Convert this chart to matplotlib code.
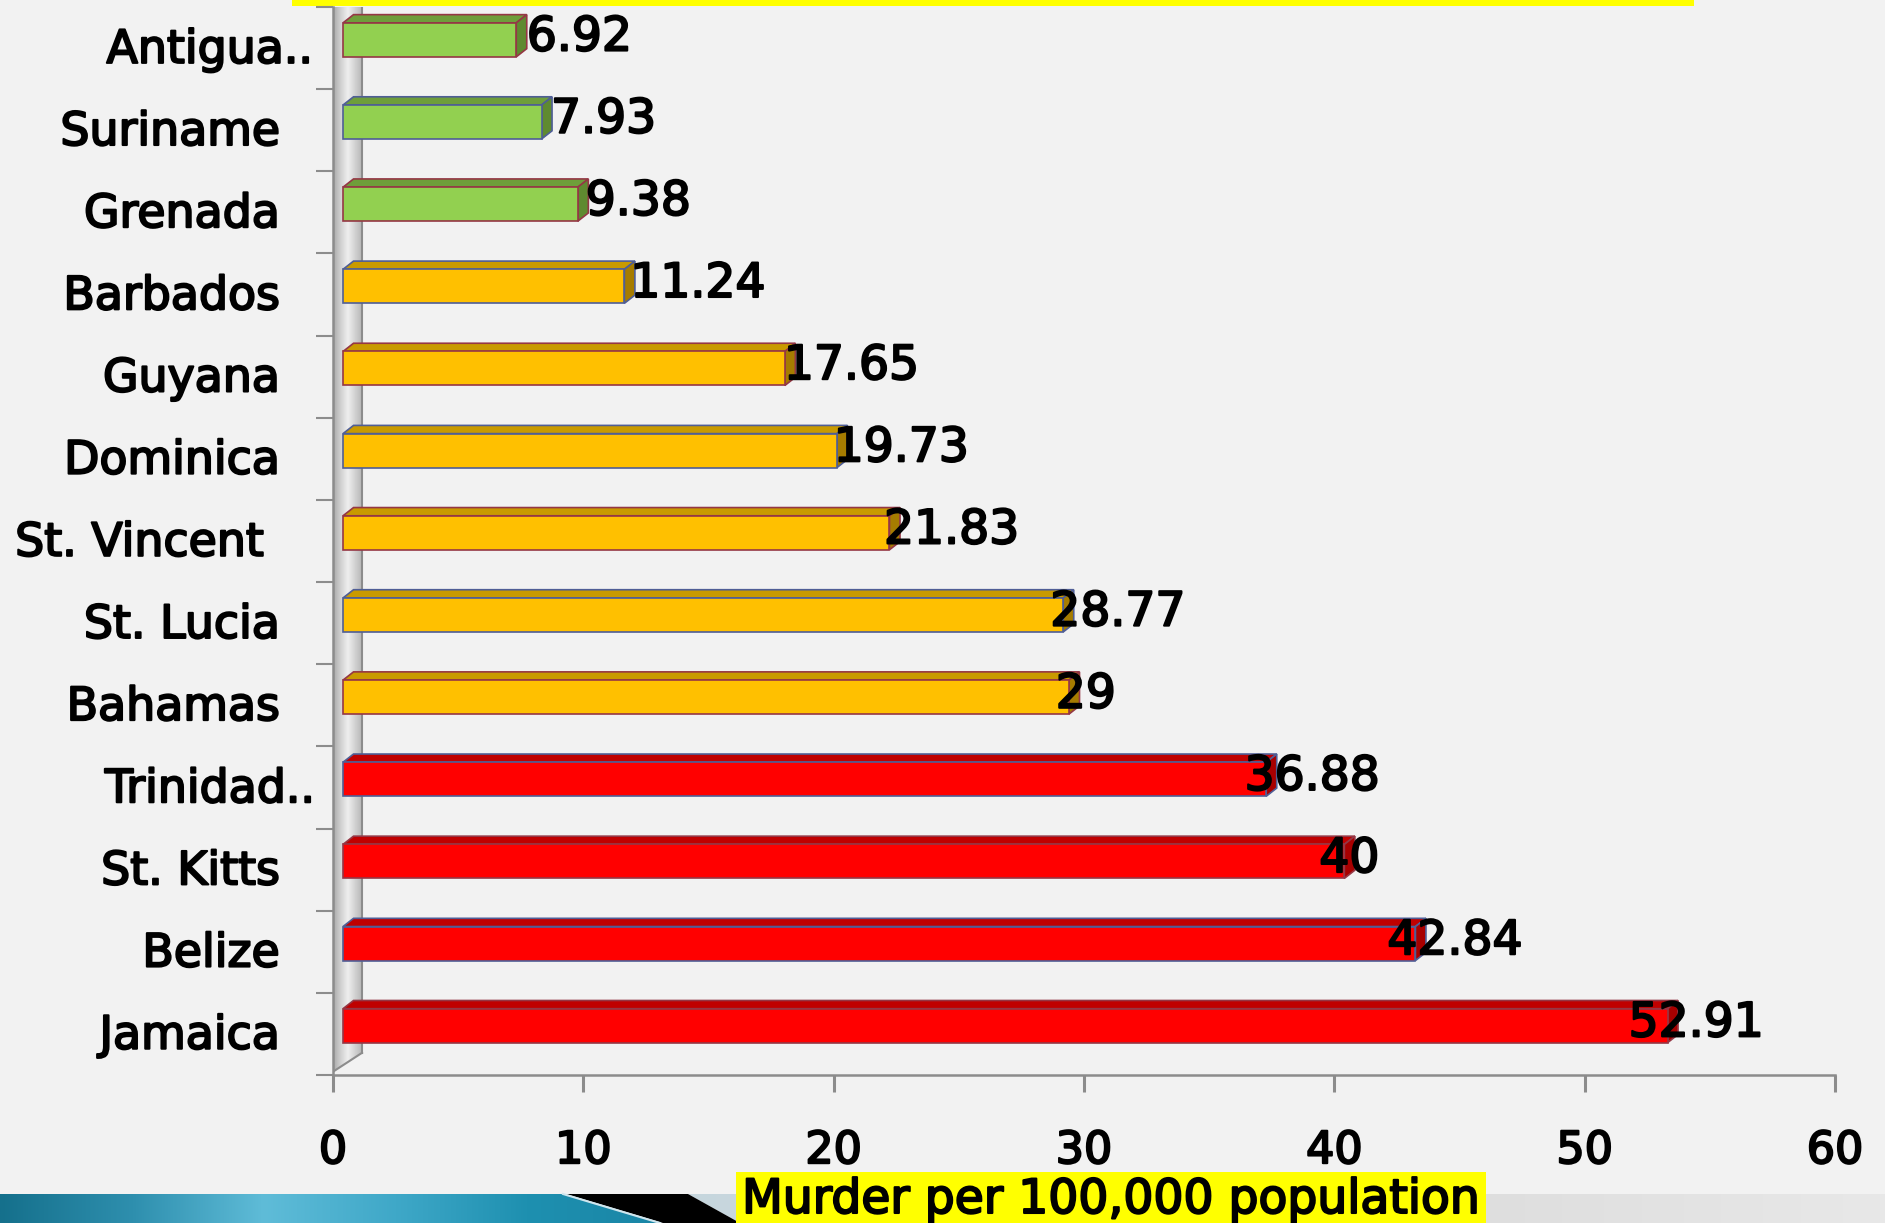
import numpy as np
import matplotlib
matplotlib.use('Agg')
import matplotlib.pyplot as plt
import matplotlib.transforms as mtransforms
import matplotlib.patheffects as pe
from matplotlib.patches import Polygon, Rectangle
from matplotlib.colors import LinearSegmentedColormap

plt.rcParams['font.family'] = ['DejaVu Sans']

# 数据（从上到下）
countries = ['Antigua..', 'Suriname', 'Grenada', 'Barbados', 'Guyana', 'Dominica',
             'St. Vincent', 'St. Lucia', 'Bahamas', 'Trinidad..', 'St. Kitts', 'Belize', 'Jamaica']
rates = [6.92, 7.93, 9.38, 11.24, 17.65, 19.73, 21.83, 28.77, 29, 36.88, 40, 42.84, 52.91]
levels = ['low', 'low', 'low', 'mid', 'mid', 'mid', 'mid', 'mid', 'mid', 'high', 'high', 'high', 'high']
x_ticks = [0, 10, 20, 30, 40, 50, 60]
x_title = 'Murder per 100,000 population'

# 颜色: 正面, 顶面, 侧面
face_map = {'low': '#92D050', 'mid': '#FFC000', 'high': '#FF0000'}
top_map = {'low': '#6E9E3A', 'mid': '#C99A00', 'high': '#C00000'}
side_map = {'low': '#5F8A30', 'mid': '#A67C00', 'high': '#A80000'}
edge_cycle = ['#953745', '#4F5E96']
label_nudge = {'Antigua..': 33, 'Trinidad..': 35, 'St. Vincent': -16}  # 像素

# 文字加粗一点（原图字体偏粗）
heavy = [pe.withStroke(linewidth=1.5, foreground='black')]

W, H = 1885, 1223
bg = '#F2F2F2'
fig = plt.figure(figsize=(W / 100, H / 100), dpi=100, facecolor=bg)

# 底部装饰 + 标题框（像素坐标的背景层）
deco = fig.add_axes([0, 0, 1, 1], zorder=0)
deco.set_xlim(0, W)
deco.set_ylim(H, 0)
deco.axis('off')
deco.add_patch(Rectangle((292, 0), 1402, 6, facecolor='#FFFF00', edgecolor='none'))

teal = LinearSegmentedColormap.from_list('teal', ['#15708C', '#2E8FAE', '#5FBCD8', '#3FA8C8', '#1E90B0', '#1A86A6'])
grad = np.linspace(0, 1, 256).reshape(1, -1)
im = deco.imshow(grad, cmap=teal, aspect='auto', extent=(0, 660, H, 1194), zorder=1)
clip = Polygon([(0, 1194), (563, 1194), (660, H), (0, H)], closed=True, transform=deco.transData)
im.set_clip_path(clip)
deco.plot([563, 660], [1194, H], color='#CFE6EE', lw=1.5, zorder=3)
deco.add_patch(Polygon([(566, 1194), (688, 1194), (740, H), (663, H)], closed=True,
                       facecolor='black', edgecolor='none', zorder=2))
grey = LinearSegmentedColormap.from_list('grey', ['#C6D6DE', '#D6D6D6', '#DEDEDE', '#E8E8E8'])
im2 = deco.imshow(grad, cmap=grey, aspect='auto', extent=(688, W, H, 1194), zorder=1)
clip2 = Polygon([(688, 1194), (W, 1194), (W, H), (740, H)], closed=True, transform=deco.transData)
im2.set_clip_path(clip2)

deco.text(1111, 1213, x_title, fontsize=34, ha='center', va='baseline', zorder=5, path_effects=heavy,
          bbox=dict(boxstyle='square,pad=0.12', facecolor='#FFFF00', edgecolor='none'))

# 主图
ax = fig.add_axes([333 / W, (H - 1075) / H, (1835 - 333) / W, 1068 / H], zorder=1)
ax.set_facecolor(bg)
n = len(countries)
ypos = np.arange(n)[::-1]
ax.set_xlim(0, 60)
ax.set_ylim(-0.5, n - 0.5)

# 左侧 3D 墙
wall_w = 1.16
wall_cmap = LinearSegmentedColormap.from_list('wall', ['#A8A8A8', '#CFCFCF', '#EFEFEF', '#D0D0D0', '#B4B4B4'])
wim = ax.imshow(grad, cmap=wall_cmap, aspect='auto', extent=(0, wall_w, -0.5, n - 0.5), zorder=1)
wall_poly = Polygon([(0, -0.46), (0, n - 0.5), (wall_w, n - 0.5), (wall_w, -0.23)], closed=True,
                    transform=ax.transData)
wim.set_clip_path(wall_poly)
ax.plot([wall_w, wall_w], [-0.23, n - 0.5], color='#8C8C8C', lw=1.5, zorder=2)
ax.plot([0, wall_w], [-0.46, -0.23], color='#8C8C8C', lw=1.5, zorder=2)

# 3D 条形
x0, h, lift = 0.4, 0.414, 0.1
ddx, ddy = 0.42, 0.1
face_colors = [face_map[g] for g in levels]
edges = [edge_cycle[i % 2] for i in range(n)]
ax.barh(ypos + lift, rates, left=x0, height=h, color=face_colors, edgecolor=edges,
        linewidth=1.2, zorder=4)
for v, c, g, ec in zip(rates, ypos, levels, edges):
    yb = c + lift - h / 2
    yt = c + lift + h / 2
    ax.add_patch(Polygon([(x0, yt), (x0 + v, yt), (x0 + v + ddx, yt + ddy), (x0 + ddx, yt + ddy)],
                         closed=True, facecolor=top_map[g], edgecolor=ec, lw=1.2, zorder=3))
    ax.add_patch(Polygon([(x0 + v, yb), (x0 + v + ddx, yb + ddy), (x0 + v + ddx, yt + ddy), (x0 + v, yt)],
                         closed=True, facecolor=side_map[g], edgecolor=ec, lw=1.2, zorder=3))
    ax.text(1.12 + 0.957 * v, c - 0.03, f'{v:g}', fontsize=34, ha='left', va='baseline', zorder=6,
            path_effects=heavy)

# 类别标签
blend = mtransforms.blended_transform_factory(ax.transAxes, ax.transData)
for name, c in zip(countries, ypos):
    tr = blend + mtransforms.ScaledTranslation(label_nudge.get(name, 0) / 100, 0, fig.dpi_scale_trans)
    ax.text(-53 / 1502, c - 0.18, name, fontsize=33, ha='right', va='baseline', transform=tr,
            path_effects=heavy)

# 坐标轴
ax.set_yticks(np.arange(-0.5, n, 1.0))
ax.set_yticklabels([])
ax.set_xticks(x_ticks)
ax.set_xticklabels([str(t) for t in x_ticks], fontsize=32)
for lab in ax.get_xticklabels():
    lab.set_path_effects(heavy)
ax.tick_params(axis='y', length=12, width=1.5, color='#8C8C8C', direction='out')
ax.tick_params(axis='x', length=12, width=2.2, color='#8C8C8C', direction='out', pad=27)
for s in ['top', 'right']:
    ax.spines[s].set_visible(False)
for s in ['left', 'bottom']:
    ax.spines[s].set_color('#8C8C8C')
    ax.spines[s].set_linewidth(1.8)

plt.savefig('out.png', dpi=100, facecolor=bg)
